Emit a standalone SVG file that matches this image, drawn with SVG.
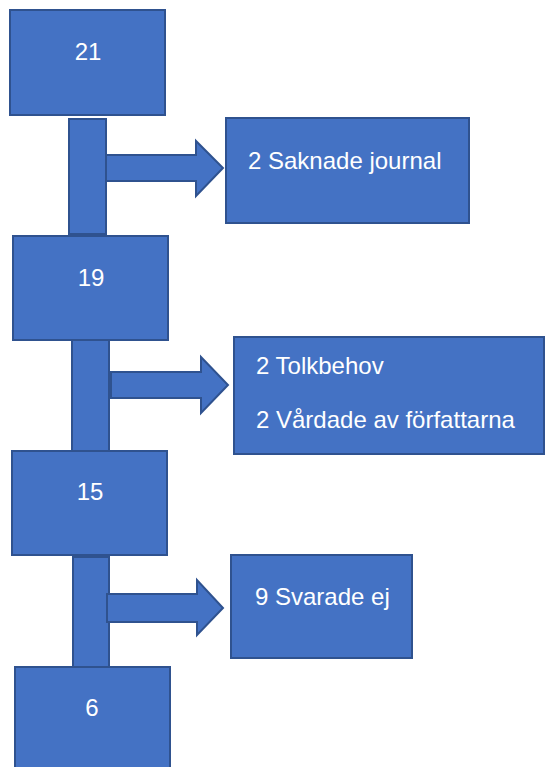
<svg xmlns="http://www.w3.org/2000/svg" width="546" height="767" viewBox="0 0 546 767">
  <style>
    .box { fill: #4472C4; stroke: #2F528F; stroke-width: 2; }
    .lbl { fill: #FFFFFF; font-family: "Liberation Sans", Arial, sans-serif; font-size: 24px; }
    .mid { text-anchor: middle; }
  </style>
  <rect width="546" height="767" fill="#FFFFFF"/>
  <g id="connectors">
    <rect class="box" x="69" y="119" width="37" height="115"/>
    <polygon class="box" points="106,155 196,155 196,141 223,168 196,196 196,181 106,181"/>
    <rect class="box" x="72" y="340" width="37" height="113"/>
    <polygon class="box" points="111,372 201,372 201,357 228,385 201,413 201,398 111,398"/>
    <rect class="box" x="73" y="557" width="36" height="110"/>
    <polygon class="box" points="107,594 197,594 197,580 223,608 197,635 197,622 107,622"/>
  </g>
  <g id="n21">
    <rect class="box" x="10" y="10" width="155" height="105"/>
    <text class="lbl mid" x="88" y="60">21</text>
  </g>
  <g id="n-saknade">
    <rect class="box" x="226" y="118" width="243" height="105"/>
    <text class="lbl" x="248" y="169">2 Saknade journal</text>
  </g>
  <g id="n19">
    <rect class="box" x="13" y="236" width="155" height="104"/>
    <text class="lbl mid" x="91" y="286">19</text>
  </g>
  <g id="n-tolk">
    <rect class="box" x="234" y="337" width="310" height="117"/>
    <text class="lbl" x="256" y="374">2 Tolkbehov</text>
    <text class="lbl" x="256" y="428">2 Vårdade av författarna</text>
  </g>
  <g id="n15">
    <rect class="box" x="12" y="451" width="155" height="104"/>
    <text class="lbl mid" x="90" y="500">15</text>
  </g>
  <g id="n-svarade">
    <rect class="box" x="231" y="555" width="181" height="103"/>
    <text class="lbl" x="255" y="605">9 Svarade ej</text>
  </g>
  <g id="n6">
    <rect class="box" x="15" y="667" width="155" height="110"/>
    <text class="lbl mid" x="92" y="716">6</text>
  </g>
</svg>
